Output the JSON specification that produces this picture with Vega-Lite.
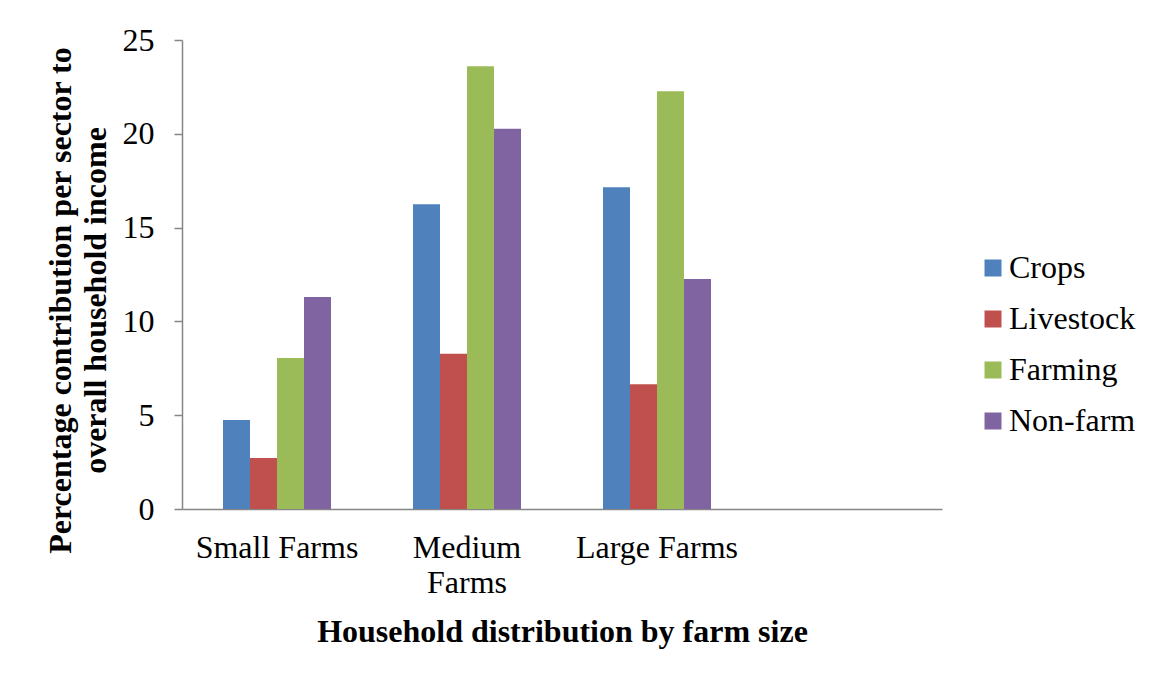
{
  "$schema": "https://vega.github.io/schema/vega-lite/v6.json",
  "width": 760,
  "height": 469,
  "autosize": {"type": "none"},
  "padding": {"left": 182, "top": 40, "right": 207, "bottom": 166},
  "background": "white",
  "data": {
    "values": [
      {"size": "Small Farms", "sector": "Crops", "value": 4.75},
      {"size": "Small Farms", "sector": "Livestock", "value": 2.72},
      {"size": "Small Farms", "sector": "Farming", "value": 8.05},
      {"size": "Small Farms", "sector": "Non-farm", "value": 11.3},
      {"size": "Medium Farms", "sector": "Crops", "value": 16.25},
      {"size": "Medium Farms", "sector": "Livestock", "value": 8.28},
      {"size": "Medium Farms", "sector": "Farming", "value": 23.6},
      {"size": "Medium Farms", "sector": "Non-farm", "value": 20.27},
      {"size": "Large Farms", "sector": "Crops", "value": 17.15},
      {"size": "Large Farms", "sector": "Livestock", "value": 6.65},
      {"size": "Large Farms", "sector": "Farming", "value": 22.27},
      {"size": "Large Farms", "sector": "Non-farm", "value": 12.26}
    ]
  },
  "mark": {"type": "bar"},
  "encoding": {
    "x": {
      "field": "size",
      "type": "nominal",
      "sort": null,
      "scale": {
        "domain": ["Small Farms", "Medium Farms", "Large Farms", " "],
        "paddingInner": 0.4316,
        "paddingOuter": 0.2158
      },
      "axis": {
        "title": "Household distribution by farm size",
        "labelAngle": 0,
        "ticks": false,
        "tickSize": 0,
        "labelPadding": 23,
        "labelLineHeight": 35,
        "labelExpr": "datum.value == 'Medium Farms' ? ['Medium', 'Farms'] : datum.value",
        "titleY": 132,
        "titleBaseline": "alphabetic"
      }
    },
    "xOffset": {
      "field": "sector",
      "type": "nominal",
      "sort": ["Crops", "Livestock", "Farming", "Non-farm"],
      "scale": {"paddingInner": 0, "paddingOuter": 0}
    },
    "y": {
      "field": "value",
      "type": "quantitative",
      "scale": {"domain": [0, 25], "nice": false},
      "axis": {
        "title": ["Percentage contribution per sector to", "overall household income"],
        "values": [0, 5, 10, 15, 20, 25],
        "grid": false,
        "tickSize": 8,
        "labelPadding": 20,
        "titleAngle": -90,
        "titleBaseline": "bottom",
        "titleLineHeight": 35,
        "titleX": -105,
        "titleY": 260,
        "titleAlign": "center"
      }
    },
    "color": {
      "field": "sector",
      "type": "nominal",
      "sort": ["Crops", "Livestock", "Farming", "Non-farm"],
      "scale": {
        "domain": ["Crops", "Livestock", "Farming", "Non-farm"],
        "range": ["#4F81BD", "#C0504D", "#9BBB59", "#8064A2"]
      },
      "legend": {
        "title": null,
        "orient": "none",
        "legendX": 795,
        "legendY": 212,
        "padding": 0,
        "symbolType": "square",
        "symbolSize": 289,
        "symbolStrokeWidth": 0,
        "labelOffset": 0,
        "rowPadding": 19,
        "labelFontSize": 32,
        "labelFont": "Liberation Serif",
        "labelColor": "black",
        "labelLimit": 300
      }
    }
  },
  "config": {
    "view": {"stroke": null},
    "axis": {
      "labelFont": "Liberation Serif",
      "labelFontSize": 32,
      "labelColor": "black",
      "titleFont": "Liberation Serif",
      "titleFontSize": 32,
      "titleFontWeight": "bold",
      "titleColor": "black",
      "domainColor": "#868686",
      "domainWidth": 1.5,
      "tickColor": "#868686",
      "tickWidth": 1.5,
      "labelLimit": 400
    }
  }
}
